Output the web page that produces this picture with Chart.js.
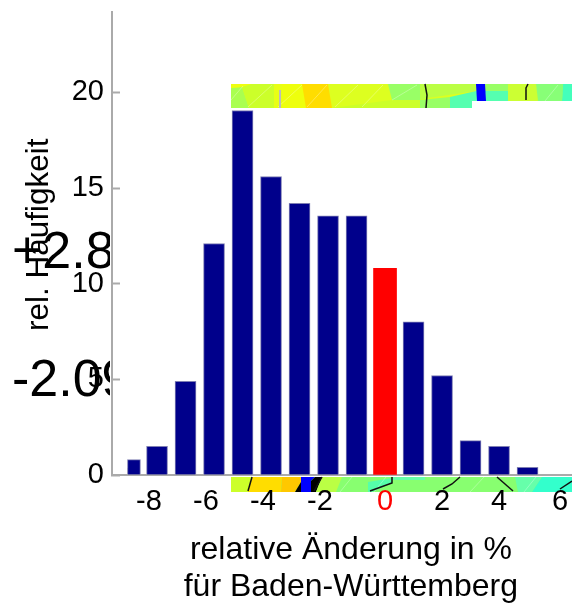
<!DOCTYPE html>
<html>
<head>
<meta charset="utf-8">
<style>
html, body { margin: 0; padding: 0; background: #fff; overflow: hidden; }
canvas { display: block; }
</style>
<script src="https://cdn.jsdelivr.net/npm/chart.js@4/dist/chart.umd.min.js"></script>
</head>
<body>
<canvas id="hist" width="572" height="603"></canvas>
<script>
// change in %, one bar per class
var changes = [-8, -7, -6, -5, -4, -3, -2, -1, 1, 2, 3, 4, 5, 6];
var shares = [1.5, 4.9, 12.1, 19.05, 15.6, 14.2, 13.55, 13.55, 8.0, 5.2, 1.8, 1.5, 0.4, 0];
var lowChange = [-8.81];
var lowShare = [0.8];
var zeroChange = [0];
var zeroShare = [10.8];

var xTicks = [-9, -8, -7, -6, -5, -4, -3, -2, -1, 0, 1, 2, 3, 4, 5, 6];
var xLabels = ['-8', '-6', '-4', '-2', '0', '2', '4', '6'];
var yTicks = [0, 5, 10, 15, 20];

var FONT = '"Liberation Sans", Arial, sans-serif';
var AXIS = '#aaaaaa';
var BAR_EDGE = '#7f7fb4';

function points(xs, ys) {
	var out = [];
	for (var i = 0; i < xs.length; i++) {
		out.push({ x: xs[i], y: ys[i] });
	}
	return out;
}

// pieces of the two map images that sit behind the chart
var mapPieces = [
	['#ddff20', [[231, 84], [572, 84], [572, 101], [472, 101], [472, 108], [231, 108]]],
	['#aaff50', [[231, 88], [242, 87], [249, 108], [231, 108]]],
	['#eeff10', [[231, 84], [252, 84], [242, 87], [231, 88]]],
	['#ccff2a', [[242, 87], [252, 84], [274, 84], [274, 108], [249, 108]]],
	['#e8ff15', [[274, 84], [282, 84], [282, 108], [274, 108]]],
	['#eeff0d', [[282, 84], [303, 84], [306, 108], [282, 108]]],
	['#ffdd00', [[302, 84], [328, 84], [332, 108], [306, 108]]],
	['#ccff2a', [[332, 108], [392, 100], [420, 100], [420, 108]]],
	['#99ff66', [[388, 84], [420, 84], [420, 100], [392, 100]]],
	['#bbff44', [[420, 84], [476, 84], [476, 91], [428, 98], [420, 100]]],
	['#99ff66', [[420, 100], [450, 97], [450, 108], [420, 108]]],
	['#55ffb0', [[450, 97], [476, 91], [476, 101], [472, 101], [472, 108], [450, 108]]],
	['#99ff66', [[476, 84], [508, 84], [508, 91], [476, 91]]],
	['#55ffb0', [[476, 91], [508, 91], [508, 101], [476, 101]]],
	['#0000ff', [[476, 84], [485, 84], [486, 101], [477, 101]]],
	['#ccff33', [[508, 84], [536, 84], [538, 101], [508, 101]]],
	['#88ff77', [[536, 84], [563, 84], [562, 101], [538, 101]]],
	['#44ffbb', [[563, 84], [572, 84], [572, 101], [562, 101]]],
	['#88ff70', [[231, 477], [572, 477], [572, 492], [231, 492]]],
	['#ccff2a', [[231, 477], [252, 477], [248, 492], [231, 492]]],
	['#ffdd00', [[252, 477], [282, 477], [281, 492], [248, 492]]],
	['#ffc800', [[282, 477], [301, 477], [301, 482], [295, 492], [281, 492]]],
	['#000000', [[301, 482], [301, 492], [295, 492]]],
	['#0000ff', [[301, 477], [315, 477], [311, 481], [311, 492], [301, 492]]],
	['#000000', [[315, 477], [322, 477], [316, 492], [311, 492], [311, 481]]],
	['#bbff44', [[322, 477], [342, 477], [336, 492], [316, 492]]],
	['#55ffaa', [[368, 482], [392, 478], [392, 483], [372, 492], [368, 492]]],
	['#66ffaa', [[392, 477], [425, 477], [425, 480], [392, 480]]],
	['#66ffaa', [[515, 477], [542, 477], [532, 492], [518, 492]]],
	['#33ffcc', [[542, 477], [572, 477], [572, 492], [532, 492]]]
];
var mapLines = [
	[[425, 84], [427, 95], [426, 108]],
	[[528, 84], [526, 88], [526, 100]],
	[[252, 477], [248, 491]],
	[[322, 477], [314, 491]],
	[[392, 477], [392, 483], [370, 491]],
	[[460, 477], [452, 484], [443, 489]],
	[[497, 477], [513, 491]],
	[[572, 481], [560, 489]]
];
var mapGlints = [
	[[248, 107], [272, 85]],
	[[278, 107], [302, 85]],
	[[307, 107], [327, 85]],
	[[335, 107], [358, 85]],
	[[362, 107], [383, 85]],
	[[392, 100], [417, 85]],
	[[231, 100], [243, 86]],
	[[340, 492], [352, 477]],
	[[374, 492], [386, 477]],
	[[470, 492], [484, 477]],
	[[524, 492], [536, 477]],
	[[545, 101], [558, 85]]
];

function tracePath(ctx, line) {
	ctx.beginPath();
	line.forEach(function (q, i) {
		if (i == 0) ctx.moveTo(q[0], q[1]); else ctx.lineTo(q[0], q[1]);
	});
}

var mapPlugin = {
	id: 'maps',
	beforeDraw: function (chart) {
		var ctx = chart.ctx;
		ctx.save();
		mapPieces.forEach(function (p) {
			ctx.fillStyle = p[0];
			tracePath(ctx, p[1]);
			ctx.closePath();
			ctx.fill();
		});
		ctx.lineWidth = 1;
		ctx.strokeStyle = 'rgba(255,255,255,0.3)';
		mapGlints.forEach(function (l) {
			tracePath(ctx, l);
			ctx.stroke();
		});
		ctx.strokeStyle = '#bbbbbb';
		ctx.lineWidth = 2;
		tracePath(ctx, [[280, 90], [280, 108]]);
		ctx.stroke();
		ctx.strokeStyle = '#111';
		ctx.lineWidth = 1.5;
		mapLines.forEach(function (l) {
			tracePath(ctx, l);
			ctx.stroke();
		});
		ctx.restore();
	},
	afterDraw: function (chart) {
		// the big map captions are cut off at the axis
		var ctx = chart.ctx;
		ctx.save();
		ctx.beginPath();
		ctx.rect(0, 0, 110, 603);
		ctx.clip();
		ctx.fillStyle = '#000';
		ctx.font = '52px ' + FONT;
		ctx.textBaseline = 'alphabetic';
		ctx.fillText('+2.8', 12, 268);
		ctx.fillText('-2.09', 12, 396);
		ctx.restore();
	}
};

var ctx = document.getElementById('hist').getContext('2d');
window.HistChart = new Chart(ctx, {
	type: 'bar',
	data: {
		datasets: [{
			data: points(changes, shares),
			backgroundColor: '#00008b',
			borderColor: BAR_EDGE,
			borderWidth: 1,
			barThickness: 21,
			grouped: false
		}, {
			data: points(lowChange, lowShare),
			backgroundColor: '#00008b',
			borderColor: BAR_EDGE,
			borderWidth: 1,
			barThickness: 13,
			grouped: false
		}, {
			data: points(zeroChange, zeroShare),
			backgroundColor: '#ff0000',
			barThickness: 23,
			grouped: false
		}]
	},
	options: {
		responsive: false,
		animation: false,
		layout: { padding: { top: 12, left: 0, right: 0, bottom: 0 } },
		plugins: { legend: { display: false }, tooltip: { enabled: false } },
		scales: {
			x: {
				type: 'linear',
				offset: false,
				min: -9.58,
				max: 6.56,
				afterBuildTicks: function (scale) {
					scale.ticks = xTicks.map(function (v) { return { value: v }; });
				},
				afterFit: function (scale) {
					scale.height = 128;
					scale.paddingLeft = 0;
					scale.paddingRight = 0;
				},
				grid: { drawOnChartArea: false, tickLength: -7, tickColor: AXIS, tickWidth: 2 },
				border: { color: AXIS, width: 2 },
				ticks: {
					autoSkip: false,
					maxRotation: 0,
					padding: 17,
					color: function (c) { return c.tick && c.tick.value == 0 ? '#ff0000' : '#000000'; },
					font: { family: FONT, size: 29 },
					callback: function (v) {
						if (xLabels.indexOf(String(v)) < 0) return null;
						if (v == 6) return ' 6';
						return v < 0 ? v + '  ' : String(v);
					}
				},
				title: {
					display: true,
					text: ['  relative Änderung in %', '  für Baden-Württemberg'],
					color: '#000',
					font: { family: FONT, size: 32, lineHeight: 1.14 },
					padding: { top: 0, bottom: -2 }
				}
			},
			y: {
				min: 0,
				max: 24.2,
				afterBuildTicks: function (scale) {
					scale.ticks = yTicks.map(function (v) { return { value: v }; });
				},
				afterFit: function (scale) {
					scale.width = 112;
					scale.paddingTop = 0;
					scale.paddingBottom = 0;
				},
				grid: { drawOnChartArea: false, tickLength: -8, tickColor: AXIS, tickWidth: 2 },
				border: { color: AXIS, width: 2 },
				ticks: {
					padding: 16,
					color: '#000',
					font: { family: FONT, size: 29 }
				},
				title: {
					display: true,
					text: '  rel. Häufigkeit',
					color: '#000',
					font: { family: FONT, size: 31.5 },
					padding: { top: 20, bottom: 0 }
				}
			}
		}
	},
	plugins: [mapPlugin]
});
</script>
</body>
</html>
